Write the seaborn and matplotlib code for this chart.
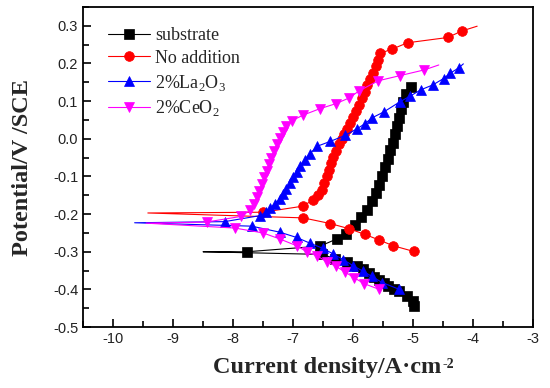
"""
Tafel polarization curves: substrate vs coatings with rare-earth additions
"""

import matplotlib
matplotlib.use('Agg')
import matplotlib.pyplot as plt
from matplotlib.ticker import MultipleLocator
import seaborn as sns

# ---- data (log current density, potential V/SCE) ----
# each curve: cathodic branch (from Ecorr outward), tail point at Ecorr,
# anodic branch (from Ecorr outward), optional line-only end point

sub_cath_x = [-6.52, -6.30, -6.10, -5.94, -5.84, -5.74, -5.65, -5.56, -5.48, -5.41, -5.32, -5.24, -5.10, -5.00, -4.99]
sub_cath_y = [-0.307, -0.318, -0.328, -0.338, -0.347, -0.356, -0.366, -0.375, -0.383, -0.390, -0.398, -0.405, -0.418, -0.430, -0.443]
sub_tail = (-8.50, -0.300)
sub_anod_x = [-7.77, -6.55, -6.27, -6.12, -5.96, -5.86, -5.77, -5.69, -5.62, -5.56, -5.51, -5.46, -5.42,
              -5.38, -5.34, -5.30, -5.27, -5.23, -5.20, -5.16, -5.12, -5.04]
sub_anod_y = [-0.300, -0.285, -0.266, -0.254, -0.230, -0.209, -0.188, -0.166, -0.145, -0.122, -0.099, -0.076, -0.054,
              -0.031, -0.010, 0.012, 0.034, 0.056, 0.078, 0.098, 0.118, 0.138]
sub_end = []

noadd_cath_x = [-6.83, -6.38, -6.06, -5.80, -5.56, -5.33, -4.99]
noadd_cath_y = [-0.210, -0.225, -0.239, -0.254, -0.269, -0.284, -0.299]
noadd_tail = (-9.42, -0.197)
noadd_anod_x = [-7.50, -6.84, -6.66, -6.58, -6.52, -6.48, -6.44, -6.40, -6.36, -6.33, -6.29, -6.24, -6.19, -6.15,
                -6.10, -6.05, -6.00, -5.95, -5.90, -5.85, -5.80, -5.76, -5.71, -5.67, -5.62, -5.58, -5.55,
                -5.35, -5.09, -4.42, -4.19]
noadd_anod_y = [-0.195, -0.179, -0.162, -0.150, -0.135, -0.118, -0.100, -0.083, -0.065, -0.048, -0.032, -0.015, 0.000, 0.012,
                0.026, 0.042, 0.058, 0.075, 0.091, 0.108, 0.125, 0.142, 0.160, 0.176, 0.193, 0.210, 0.227,
                0.238, 0.255, 0.269, 0.286]
noadd_end = [(-3.93, 0.299)]

la_cath_x = [-7.69, -7.22, -6.94, -6.72, -6.50, -6.33, -6.16, -6.00, -5.84, -5.69, -5.51, -5.24]
la_cath_y = [-0.232, -0.248, -0.262, -0.277, -0.291, -0.306, -0.321, -0.337, -0.351, -0.365, -0.382, -0.399]
la_tail = (-9.64, -0.223)
la_anod_x = [-8.14, -7.55, -7.45, -7.38, -7.30, -7.22, -7.16, -7.11, -7.05, -7.00, -6.94, -6.88, -6.80, -6.72,
             -6.60, -6.38, -6.13, -5.94, -5.80, -5.69, -5.49, -5.21, -5.05, -4.87, -4.67, -4.49, -4.38, -4.24]
la_anod_y = [-0.220, -0.204, -0.195, -0.185, -0.172, -0.160, -0.146, -0.133, -0.118, -0.102, -0.087, -0.071, -0.055, -0.040,
             -0.020, -0.007, 0.009, 0.026, 0.040, 0.055, 0.071, 0.099, 0.113, 0.130, 0.143, 0.160, 0.174, 0.188]
la_end = [(-4.16, 0.199)]

ce_cath_x = [-7.97, -7.50, -7.22, -6.94, -6.77, -6.60, -6.44, -6.28, -6.13, -5.98, -5.81, -5.56]
ce_cath_y = [-0.237, -0.250, -0.266, -0.284, -0.300, -0.311, -0.326, -0.339, -0.354, -0.369, -0.385, -0.400]
ce_tail = (-9.45, -0.224)
ce_anod_x = [-8.44, -7.86, -7.72, -7.65, -7.60, -7.56, -7.52, -7.48, -7.44, -7.40, -7.36, -7.32, -7.27, -7.22,
             -7.17, -7.11, -7.02, -6.83, -6.55, -6.29, -6.07, -5.90, -5.58, -5.21, -4.81]
ce_anod_y = [-0.221, -0.206, -0.190, -0.172, -0.155, -0.138, -0.120, -0.102, -0.085, -0.067, -0.050, -0.032, -0.015, 0.002,
             0.018, 0.033, 0.048, 0.063, 0.080, 0.093, 0.108, 0.127, 0.154, 0.168, 0.183]
ce_end = [(-4.57, 0.196)]

labels = ['substrate', 'No addition', '2%La$_2$O$_3$', '2%CeO$_2$']
colors = ['#000000', '#ff0000', '#0000ff', '#ff00ff']
markers = ['s', 'o', '^', 'v']
msizes = [6.5, 7.0, 7.5, 7.5]


def build_path(cx, cy, tail, ax_, ay, end):
    """cathodic branch reversed -> Ecorr tail -> anodic branch -> end"""
    xs = cx[::-1] + [tail[0]] + ax_ + [p[0] for p in end]
    ys = cy[::-1] + [tail[1]] + ay + [p[1] for p in end]
    mask = [True] * len(cx) + [False] + [True] * len(ax_) + [False] * len(end)
    return xs, ys, mask


curves = [
    build_path(sub_cath_x, sub_cath_y, sub_tail, sub_anod_x, sub_anod_y, sub_end),
    build_path(noadd_cath_x, noadd_cath_y, noadd_tail, noadd_anod_x, noadd_anod_y, noadd_end),
    build_path(la_cath_x, la_cath_y, la_tail, la_anod_x, la_anod_y, la_end),
    build_path(ce_cath_x, ce_cath_y, ce_tail, ce_anod_x, ce_anod_y, ce_end),
]

sns.set_style('ticks')
plt.rcParams['axes.unicode_minus'] = False
plt.rcParams['mathtext.fontset'] = 'custom'
plt.rcParams['mathtext.rm'] = 'Liberation Serif'

fig = plt.figure(figsize=(5.5, 3.88), dpi=100)
ax = fig.add_axes([0.151, 0.157, 0.818, 0.825])

for (xs, ys, mask), lab, col, mk, ms in zip(curves, labels, colors, markers, msizes):
    sns.lineplot(x=xs, y=ys, sort=False, estimator=None, ax=ax,
                 color=col, lw=0.8, marker=mk, markersize=ms, markevery=mask,
                 markeredgecolor=col, markeredgewidth=0.5, label=lab)

ax.set_xlim(-10.5, -3)
ax.set_ylim(-0.5, 0.35)
ax.xaxis.set_major_locator(MultipleLocator(1))
ax.xaxis.set_minor_locator(MultipleLocator(0.5))
ax.yaxis.set_major_locator(MultipleLocator(0.1))
ax.yaxis.set_minor_locator(MultipleLocator(0.05))
ax.yaxis.set_major_formatter(plt.FuncFormatter(lambda v, p: f'{v:.1f}'))
ax.tick_params(which='both', direction='in', bottom=True, left=True, top=False, right=False,
               labelsize=10.5, width=1.2, color='black', labelcolor='#222222')
ax.tick_params(which='major', length=6)
ax.tick_params(which='minor', length=4)
for lbl in ax.get_xticklabels() + ax.get_yticklabels():
    lbl.set_family('Liberation Sans')
for s in ax.spines.values():
    s.set_visible(True)
    s.set_linewidth(1.3)
    s.set_color('black')

ax.set_xlabel('Current density/A\u00b7cm', fontsize=17.5, fontweight='bold',
              family='Liberation Serif')
ax.set_ylabel('Potential/V /SCE', fontsize=17.5, fontweight='bold',
              family='Liberation Serif')
ax.xaxis.set_label_coords(0.542, -0.094)
ax.yaxis.set_label_coords(-0.111, 0.5)

ax.legend(loc='upper left', bbox_to_anchor=(0.04, 0.96), frameon=False,
          prop={'family': 'Liberation Serif', 'size': 13},
          handlelength=2.3, handletextpad=0.3, labelspacing=0.32, borderaxespad=0)

# small bold superscript right after the x label
fig.canvas.draw()
bb = ax.xaxis.label.get_window_extent()
fig.text((bb.x1 + 1) / fig.bbox.width, (bb.y1 - 1) / fig.bbox.height, '-2',
         fontsize=10, fontweight='bold', family='Liberation Serif', va='top', ha='left')

fig.savefig('out.png', dpi=100)
plt.close(fig)
